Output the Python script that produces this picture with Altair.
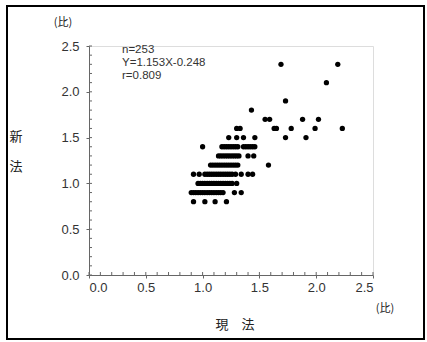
import altair as alt
import pandas as pd

# ---- data (x = 現法 ratio, per y level = 新法 ratio) ----
y_levels = [0.8, 0.9, 1.0, 1.1, 1.2, 1.3, 1.4, 1.5, 1.6, 1.7, 1.8, 1.9, 2.1, 2.3]
x_08 = [0.92, 1.02, 1.11, 1.21]
x_09 = [0.90, 0.92, 0.94, 0.96, 0.98, 1.00, 1.02, 1.04, 1.06, 1.08, 1.10, 1.12,
        1.14, 1.16, 1.18, 1.28, 1.34]
x_10 = [0.96, 0.98, 1.00, 1.02, 1.04, 1.06, 1.08, 1.10, 1.12, 1.14, 1.16, 1.18,
        1.20, 1.22, 1.24, 1.26, 1.30]
x_11 = [0.92, 0.97, 1.02, 1.04, 1.06, 1.08, 1.10, 1.12, 1.14, 1.16, 1.18, 1.20,
        1.22, 1.24, 1.26, 1.29, 1.34, 1.40, 1.44]
x_12 = [1.07, 1.09, 1.11, 1.13, 1.15, 1.17, 1.19, 1.21, 1.23, 1.25, 1.27, 1.29,
        1.31, 1.58]
x_13 = [1.14, 1.16, 1.18, 1.20, 1.22, 1.24, 1.26, 1.28, 1.30, 1.32, 1.40, 1.45]
x_14 = [1.00, 1.17, 1.19, 1.21, 1.23, 1.25, 1.27, 1.29, 1.31, 1.36, 1.38, 1.40,
        1.42, 1.44, 1.46]
x_15 = [1.23, 1.30, 1.36, 1.46, 1.73, 1.91]
x_16 = [1.30, 1.33, 1.63, 1.65, 1.78, 1.99, 2.23]
x_17 = [1.55, 1.59, 1.88, 2.02]
x_18 = [1.43]
x_19 = [1.73]
x_21 = [2.09]
x_23 = [1.69, 2.19]
x_rows = [x_08, x_09, x_10, x_11, x_12, x_13, x_14, x_15, x_16, x_17, x_18,
          x_19, x_21, x_23]

major_ticks = [0.0, 0.5, 1.0, 1.5, 2.0, 2.5]
minor_ticks = [0.0, 0.1, 0.2, 0.3, 0.4, 0.5, 0.6, 0.7, 0.8, 0.9, 1.0, 1.1, 1.2,
               1.3, 1.4, 1.5, 1.6, 1.7, 1.8, 1.9, 2.0, 2.1, 2.2, 2.3, 2.4, 2.5]

stats_lines = ["n=253", "Y=1.153X-0.248", "r=0.809"]

rows = []
for yv, xs in zip(y_levels, x_rows):
    for xv in xs:
        rows.append({"x": xv, "y": yv})
df = pd.DataFrame(rows)
df_ticks = pd.DataFrame({"t": minor_ticks})
one = pd.DataFrame({"a": [0]})

W, H = 284, 229
FONT = "Liberation Sans"
JFONT = "Noto Sans CJK JP"
AX = "#666666"

xscale = alt.Scale(domain=[0, 2.5], nice=False, zero=False)
yscale = alt.Scale(domain=[0, 2.5], nice=False, zero=False)

common_axis = dict(values=major_ticks, format=".1f", grid=False, tickSize=3,
                   domainColor=AX, tickColor=AX, labelColor="#333333",
                   labelFont=FONT, labelFontSize=13, title=None)
x_axis = alt.Axis(labelPadding=3, **common_axis)
y_axis = alt.Axis(labelPadding=7, **common_axis)

points = alt.Chart(df).mark_circle(size=28, color="black", opacity=1).encode(
    x=alt.X("x:Q", scale=xscale, axis=x_axis),
    y=alt.Y("y:Q", scale=yscale, axis=y_axis),
)

xminor = alt.Chart(df_ticks).mark_rule(color=AX, strokeWidth=1).encode(
    x=alt.X("t:Q", scale=xscale, axis=x_axis),
    y=alt.value(H), y2=alt.value(H - 3),
)
yminor = alt.Chart(df_ticks).mark_rule(color=AX, strokeWidth=1).encode(
    y=alt.Y("t:Q", scale=yscale, axis=y_axis),
    x=alt.value(0), x2=alt.value(3),
)


def label(txt, px, py, size=12, font=JFONT, align="center", color="#222222"):
    return alt.Chart(one).mark_text(
        text=txt, align=align, baseline="middle", font=font,
        fontSize=size, color=color
    ).encode(x=alt.value(px), y=alt.value(py))


stats = [label(s, 33, py, 11.5, FONT, "left", "#333333")
         for s, py in zip(stats_lines, [4, 17, 30])]

unit_y = label("(比)", -26, -23, 11)
unit_x = label("(比)", 296, 263, 11)
ylab1 = label("新", -73, 91, 13)
ylab2 = label("法", -73, 121, 13)
xlab = label("現　法", 146, 279, 13)

border = alt.Chart(one).mark_rect(
    fill=None, stroke="black", strokeWidth=2
).encode(x=alt.value(-82), x2=alt.value(335), y=alt.value(-40), y2=alt.value(293))

chart = alt.layer(
    points, xminor, yminor, *stats, unit_y, unit_x, ylab1, ylab2, xlab, border
).properties(
    width=W, height=H,
    autosize=alt.AutoSizeParams(type="none"),
    padding={"left": 89, "top": 46, "right": 54, "bottom": 67},
).configure_view(stroke=None).configure(background="white")

chart.save("out.html", embed_options={"renderer": "svg", "actions": False})
